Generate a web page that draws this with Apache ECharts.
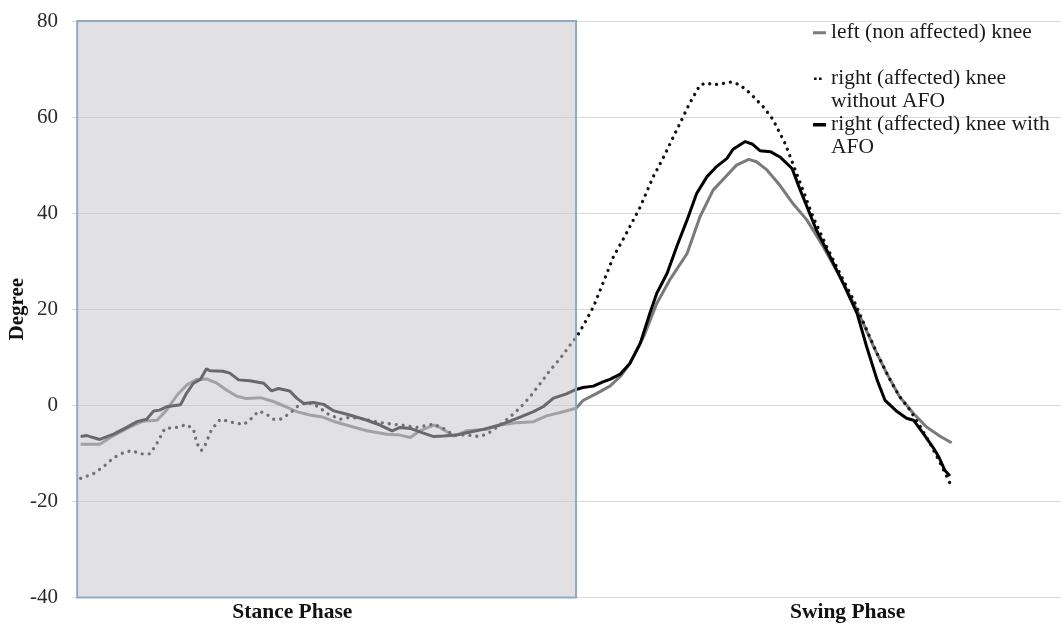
<!DOCTYPE html>
<html>
<head>
<meta charset="utf-8">
<script src="https://cdn.jsdelivr.net/npm/echarts@6/dist/echarts.min.js"></script>
<style>
html,body{margin:0;padding:0;background:#fff;}
#chart{width:1061px;height:626px;}
</style>
</head>
<body>
<div id="chart"></div>
<script>
// x = % of gait cycle, y = knee angle (degrees)
const seriesNames = ['left (non affected) knee', 'right (affected) knee without AFO', 'right (affected) knee with AFO'];
const legendLines = [['left (non affected) knee', ' '], ['right (affected) knee', 'without AFO'], ['right (affected) knee with', 'AFO']];
const phaseLabels = ['Stance Phase', 'Swing Phase'];
const phaseLabelAt = [24.4, 88.4];
const stancePhase = [-0.4, 57.1];
const yTicks = { min: -40, max: 80, step: 20 };

const leftKnee = [
  [0,-8.1],[2.2,-8.1],[3.8,-6.3],[5.7,-4.5],[7.2,-3.3],[8.8,-3.1],[9.9,-1.0],[11.1,2.1],[12.2,4.2],[13.4,5.4],
  [14.5,5.5],[15.7,4.6],[16.8,3.2],[18.0,1.9],[19.1,1.4],[20.7,1.6],[22.2,0.8],[23.8,-0.4],[24.9,-1.3],[26.4,-2.0],
  [28.0,-2.5],[29.1,-3.3],[31.0,-4.3],[33.0,-5.3],[35.3,-6.0],[36.8,-6.2],[38.0,-6.7],[39.1,-5.3],[40.7,-4.1],[41.4,-4.6],
  [43.0,-6.4],[44.5,-5.3],[46.8,-5.0],[48.3,-4.1],[50.3,-3.6],[52.2,-3.4],[53.7,-2.2],[55.3,-1.5],[57.1,-0.6],[57.9,1.0],
  [59.5,2.5],[61.0,4.0],[62.2,6.0],[63.3,8.7],[64.9,14.3],[66.4,21.2],[67.9,26.1],[69.9,31.6],[71.4,39.3],[72.9,44.8],
  [74.5,47.9],[75.6,50.0],[77.0,51.2],[77.9,50.7],[79.1,49.0],[80.6,45.8],[82.1,42.0],[83.7,38.6],[85.6,33.0],[87.5,26.8],
  [89.1,21.2],[90.2,17.1],[91.4,12.2],[92.9,6.7],[94.4,1.8],[96.0,-1.7],[97.5,-4.5],[99.1,-6.5],[100.4,-7.8]
];
const withoutAFO = [
  [0,-15.2],[1.5,-14.2],[2.6,-12.8],[3.8,-10.9],[4.9,-9.9],[5.9,-9.4],[6.8,-10.1],[8.0,-10.1],[8.8,-7.9],[9.7,-4.8],
  [11.1,-4.6],[12.2,-4.0],[13.0,-5.0],[13.4,-7.9],[13.9,-9.4],[14.3,-8.5],[15.1,-5.0],[16.1,-2.9],[17.6,-3.6],[18.8,-4.0],
  [19.7,-2.7],[20.5,-1.2],[21.4,-1.8],[22.2,-2.9],[23.0,-2.9],[24.1,-1.7],[24.9,-0.3],[26.1,0.7],[27.4,-0.3],[28.4,-1.7],
  [29.9,-2.9],[31.0,-2.5],[32.2,-2.7],[34.5,-3.6],[36.8,-4.1],[38.7,-4.6],[40.7,-3.9],[41.8,-4.8],[43.0,-6.2],[44.5,-6.2],
  [46.0,-6.5],[47.0,-5.8],[48.3,-4.1],[49.5,-2.4],[50.6,-0.6],[51.8,1.8],[53.0,4.6],[54.1,7.3],[55.3,9.8],[56.4,12.5],
  [57.2,14.3],[58.3,17.8],[59.1,20.5],[60.2,25.4],[61.4,30.9],[62.9,35.8],[64.5,41.3],[66.0,47.6],[67.2,51.7],[68.7,57.3],
  [70.2,62.9],[71.4,66.7],[72.2,67.1],[72.9,66.7],[74.1,67.0],[75.0,67.3],[76.0,66.7],[77.2,64.9],[78.7,62.1],[79.8,59.5],
  [81.2,54.5],[82.9,46.5],[84.4,39.3],[86.0,33.0],[87.5,27.5],[89.1,21.9],[90.6,15.7],[91.8,10.8],[93.3,5.3],[94.4,1.8],
  [95.6,-1.0],[96.8,-4.5],[97.9,-7.9],[99.1,-12.1],[100.2,-16.2]
];
const withAFO = [
  [0,-6.5],[0.7,-6.3],[2.2,-7.1],[3.8,-6.0],[5.3,-4.6],[6.5,-3.4],[7.6,-2.9],[8.4,-1.2],[9.1,-1.0],[9.9,-0.3],
  [11.5,0.1],[12.2,2.5],[13.0,4.6],[13.8,5.4],[14.5,7.6],[14.9,7.2],[16.4,7.1],[17.2,6.7],[18.2,5.3],[19.5,5.1],
  [21.1,4.6],[22.0,3.0],[22.8,3.5],[24.1,3.0],[24.9,1.5],[25.7,0.4],[26.8,0.6],[28.0,0.2],[29.1,-1.1],[31.0,-2.0],
  [33.0,-3.1],[34.5,-4.1],[35.9,-5.3],[36.8,-4.6],[38.0,-4.8],[39.5,-5.8],[40.7,-6.5],[41.8,-6.4],[43.3,-6.2],[44.5,-5.7],
  [46.4,-5.0],[48.3,-4.1],[50.3,-2.7],[52.2,-1.3],[53.3,-0.3],[54.5,1.5],[56.0,2.4],[57.1,3.3],[57.9,3.7],[59.1,4.0],
  [60.2,4.9],[61.0,5.4],[62.2,6.5],[63.3,8.7],[64.5,12.9],[65.6,19.1],[66.4,23.3],[67.6,27.5],[68.7,33.0],[69.9,38.6],
  [71.0,44.1],[72.2,47.6],[73.3,49.7],[74.5,51.4],[75.2,53.3],[76.6,54.9],[77.4,54.4],[78.3,53.0],[79.5,52.8],[80.6,51.7],
  [82.0,49.3],[82.9,45.0],[84.8,36.5],[86.4,30.9],[87.9,25.4],[89.5,19.1],[90.6,12.2],[91.8,5.3],[92.7,1.1],[94.1,-1.3],
  [95.2,-2.7],[96.0,-3.1],[97.1,-5.8],[98.3,-8.9],[98.9,-10.7],[99.6,-13.5],[100.2,-14.7]
];

const serif = '"Liberation Serif", "Times New Roman", serif';
const iconSolidGray = 'path://M0,10 L13,10 L13,13 L0,13 Z M0,0 L0.01,0 M13,45 L13,45.01';
const iconDots = 'path://M1,10.2 L3.6,10.2 L3.6,12.8 L1,12.8 Z M6,10.2 L8.6,10.2 L8.6,12.8 L6,12.8 Z M0,0 L0.01,0 M13,45 L13,45.01';
const iconSolidBlack = 'path://M0,9.7 L13,9.7 L13,13.3 L0,13.3 Z M0,0 L0.01,0 M13,45 L13,45.01';

const chart = echarts.init(document.getElementById('chart'), null, { renderer: 'canvas' });
chart.setOption({
  animation: false,
  backgroundColor: '#ffffff',
  grid: { left: 72, right: 0, top: 21, bottom: 28.5, containLabel: false, outerBoundsMode: 'none' },
  legend: {
    orient: 'vertical', left: 813, top: 21, padding: 0, itemGap: 0.5,
    itemWidth: 13, itemHeight: 45,
    itemStyle: { borderWidth: 0 },
    data: [
      { name: seriesNames[0], icon: iconSolidGray },
      { name: seriesNames[1], icon: iconDots },
      { name: seriesNames[2], icon: iconSolidBlack }
    ],
    formatter: function (name) { return legendLines[seriesNames.indexOf(name)].join('\n'); },
    textStyle: { fontFamily: serif, fontSize: 21.5, lineHeight: 22.75, color: '#1a1a1a' }
  },
  xAxis: {
    type: 'value', min: -1, max: 113,
    axisLine: { show: false }, axisTick: { show: false }, splitLine: { show: false },
    axisLabel: {
      customValues: phaseLabelAt,
      formatter: function (v) { return phaseLabels[phaseLabelAt.indexOf(v)] || ''; },
      fontFamily: serif, fontSize: 21.5, fontWeight: 'bold', color: '#111', margin: 4
    }
  },
  yAxis: {
    type: 'value', min: yTicks.min, max: yTicks.max, interval: yTicks.step,
    axisLine: { show: false }, axisTick: { show: false },
    splitLine: { lineStyle: { color: '#d9d9d9', width: 1 } },
    axisLabel: { fontFamily: serif, fontSize: 21, color: '#2a2a2a', margin: 14 },
    name: 'Degree', nameLocation: 'middle', nameRotate: 90, nameGap: 44, nameMoveOverlap: false,
    nameTextStyle: { fontFamily: serif, fontSize: 21, fontWeight: 'bold', color: '#111' }
  },
  series: [
    { name: seriesNames[0], type: 'line', data: leftKnee, symbol: 'none', z: 2,
      lineStyle: { color: '#7a7a7a', width: 3 }, itemStyle: { color: '#7a7a7a' } },
    { name: seriesNames[1], type: 'line', data: withoutAFO, symbol: 'none', z: 2,
      lineStyle: { color: '#111', width: 3.3, type: [0.01, 7], cap: 'round' }, itemStyle: { color: '#111' } },
    { name: seriesNames[2], type: 'line', data: withAFO, symbol: 'none', z: 3,
      lineStyle: { color: '#000', width: 3 }, itemStyle: { color: '#000' } },
    { name: 'stance', type: 'custom', z: 10, silent: true, data: [stancePhase],
      encode: { x: [0, 1] },
      renderItem: function (params, api) {
        const a = api.coord([api.value(0), yTicks.max]);
        const b = api.coord([api.value(1), yTicks.min]);
        return { type: 'rect', shape: { x: a[0], y: a[1], width: b[0] - a[0], height: b[1] - a[1] },
          style: { fill: 'rgba(198,199,204,0.53)', stroke: '#93a7c6', lineWidth: 2 } };
      }
    }
  ]
});
</script>
</body>
</html>
